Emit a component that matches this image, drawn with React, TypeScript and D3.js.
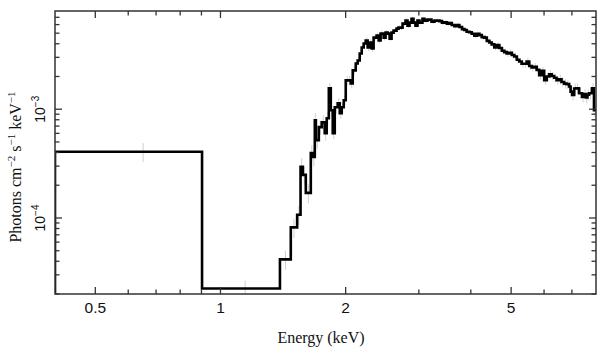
import React from "react";
import * as d3 from "d3";

// Bin edges (keV) and photon flux (photons cm^-2 s^-1 keV^-1)
const binEdges: number[] = [
  0.4, 0.903, 1.39, 1.476, 1.529,
  1.558, 1.578, 1.604,
  1.649, 1.668, 1.686, 1.696, 1.724, 1.752, 1.781, 1.801, 1.822, 1.842,
  1.862, 1.883, 1.914, 1.936, 1.957, 1.979, 2.001, 2.034, 2.057, 2.080,
  2.115, 2.138, 2.162, 2.186, 2.210, 2.235, 2.259, 2.285, 2.310, 2.335,
  2.374, 2.401, 2.427, 2.468, 2.495, 2.523, 2.551, 2.579, 2.608, 2.651,
  2.681, 2.711, 2.741, 2.786, 2.817, 2.848, 2.880, 2.912, 2.944, 2.977,
  3.010, 3.060, 3.095, 3.146, 3.217, 3.271,
  3.363, 3.41, 3.457, 3.505, 3.553, 3.60, 3.652, 3.70, 3.754, 3.81,
  3.860, 3.91, 3.968, 4.02, 4.079, 4.135, 4.194, 4.25, 4.311, 4.37,
  4.432, 4.49, 4.556, 4.62, 4.684, 4.75, 4.815, 4.88, 4.950, 5.02,
  5.088, 5.16, 5.231, 5.30, 5.377, 5.45, 5.527, 5.60, 5.682, 5.76,
  5.841, 5.92, 6.004, 6.09, 6.172, 6.26, 6.345, 6.43, 6.523, 6.61,
  6.705, 6.80, 6.893, 6.95, 7.008, 7.09, 7.165, 7.285, 7.406, 7.49,
  7.568, 7.63, 7.695, 7.824, 7.911, 8.0,
];

const fluxValues: number[] = [
  4.07e-4, 2.25e-5, 4.16e-5, 8.2e-5, 1.07e-4,
  2.96e-4, 2.49e-4, 1.70e-4,
  3.96e-4, 3.64e-4, 7.93e-4, 5.20e-4, 6.84e-4, 7.60e-4, 6.03e-4, 8.27e-4, 1.556e-3, 9.79e-4,
  6.03e-4, 1.043e-3, 1.135e-3, 9.19e-4, 1.043e-3, 1.209e-3, 1.842e-3, 1.842e-3, 1.729e-3, 2.275e-3,
  2.636e-3, 2.808e-3, 3.253e-3, 3.692e-3, 4.017e-3, 4.278e-3, 3.692e-3, 4.10e-3, 3.614e-3, 4.557e-3,
  4.753e-3, 4.278e-3, 4.958e-3, 4.557e-3, 5.064e-3, 4.958e-3, 4.462e-3, 5.064e-3, 5.283e-3, 5.510e-3,
  5.627e-3, 5.627e-3, 6.121e-3, 6.520e-3, 5.869e-3, 6.252e-3, 6.80e-3, 6.252e-3, 5.869e-3, 6.520e-3,
  6.252e-3, 6.80e-3, 6.52e-3, 6.66e-3, 6.385e-3, 6.52e-3,
  6.45e-3, 6.25e-3, 6.30e-3, 6.10e-3, 6.20e-3, 5.95e-3, 5.80e-3, 5.95e-3, 5.70e-3, 5.45e-3,
  5.35e-3, 5.15e-3, 5.10e-3, 4.95e-3, 4.75e-3, 4.95e-3, 4.80e-3, 4.60e-3, 4.55e-3, 4.25e-3,
  4.10e-3, 3.95e-3, 3.70e-3, 3.90e-3, 3.65e-3, 3.45e-3, 3.35e-3, 3.25e-3, 3.30e-3, 3.15e-3,
  3.05e-3, 2.85e-3, 2.75e-3, 2.62e-3, 2.62e-3, 2.75e-3, 2.50e-3, 2.42e-3, 2.45e-3, 2.30e-3,
  2.05e-3, 2.25e-3, 1.85e-3, 2.00e-3, 2.10e-3, 2.02e-3, 1.95e-3, 1.85e-3, 1.88e-3, 1.78e-3,
  1.72e-3, 1.70e-3, 1.62e-3, 1.45e-3, 1.35e-3, 1.55e-3, 1.556e-3, 1.401e-3, 1.30e-3, 1.38e-3,
  1.28e-3, 1.36e-3, 1.401e-3, 1.556e-3, 9.79e-4,
];

// relative 1-sigma errors per bin (gray error bars)
const relErrors: number[] = [
  0.2, 0.18, 0.2, 0.2, 0.2,
  0.2, 0.2, 0.2,
  0.18, 0.18, 0.16, 0.16, 0.15, 0.15, 0.15, 0.14, 0.12, 0.12,
  0.12, 0.12, 0.11, 0.11, 0.11, 0.1, 0.1, 0.1, 0.1, 0.09,
  0.09, 0.08, 0.08, 0.08, 0.07, 0.07, 0.07, 0.07, 0.07, 0.06,
  0.06, 0.06, 0.06, 0.06, 0.05, 0.05, 0.05, 0.05, 0.05, 0.05,
  0.05, 0.05, 0.05, 0.05, 0.05, 0.05, 0.04, 0.04, 0.04, 0.04,
  0.04, 0.04, 0.04, 0.04, 0.04, 0.04,
  0.05, 0.05, 0.05, 0.05, 0.05, 0.05, 0.05, 0.05, 0.05, 0.05,
  0.05, 0.05, 0.05, 0.05, 0.05, 0.05, 0.06, 0.06, 0.06, 0.06,
  0.06, 0.06, 0.06, 0.06, 0.07, 0.07, 0.07, 0.07, 0.07, 0.07,
  0.07, 0.07, 0.08, 0.08, 0.08, 0.08, 0.08, 0.08, 0.08, 0.08,
  0.09, 0.09, 0.09, 0.09, 0.09, 0.09, 0.09, 0.09, 0.1, 0.1,
  0.1, 0.1, 0.1, 0.1, 0.11, 0.11, 0.11, 0.11, 0.11, 0.11,
  0.12, 0.12, 0.12, 0.12, 0.14,
];

const xMajorTicks: number[] = [0.5, 1, 2, 5];
const xMajorLabels: string[] = ["0.5", "1", "2", "5"];
const xMinorTicks: number[] = [0.6, 0.7, 0.8, 0.9, 3, 4, 6, 7];
const yMajorTicks: number[] = [1e-4, 1e-3];
const yMajorExponents: string[] = ["−4", "−3"];
const yMinorTicks: number[] = [
  2e-5, 3e-5, 4e-5, 5e-5, 6e-5, 7e-5, 8e-5, 9e-5,
  2e-4, 3e-4, 4e-4, 5e-4, 6e-4, 7e-4, 8e-4, 9e-4,
  2e-3, 3e-3, 4e-3, 5e-3, 6e-3, 7e-3,
];

const W = 609;
const H = 357;
const L = 55, R = 596, T = 11, B = 294;

export default function App() {
  const x = d3.scaleLog().domain([0.4, 8]).range([L, R]);
  const y = d3.scaleLog().domain([2e-5, 8e-3]).range([B, T]);

  const n = Math.min(fluxValues.length, binEdges.length - 1);
  const pts: [number, number][] = [[x(binEdges[0]), B]];
  for (let i = 0; i < n; i++) {
    pts.push([x(binEdges[i]), y(fluxValues[i])]);
    pts.push([x(binEdges[i + 1]), y(fluxValues[i])]);
  }
  const line = d3.line<[number, number]>().x((d) => d[0]).y((d) => d[1]);

  const errBars = d3.range(n).map((i) => {
    const c = (binEdges[i] + binEdges[i + 1]) / 2;
    const f = fluxValues[i];
    const e = relErrors[i] ?? 0.05;
    return { x: x(c), y1: y(f * (1 + e)), y2: y(f * (1 - e)) };
  });

  const axisColor = "#333";
  const sans = "'Liberation Sans', Arial, Helvetica, sans-serif";
  const serif = "'Liberation Serif', 'Times New Roman', Times, serif";
  const majorLen = 7, minorLen = 4.5;

  return (
    <svg width={W} height={H} style={{ position: "fixed", left: 0, top: 0, background: "#fff" }}>
      <defs>
        <clipPath id="plotclip">
          <rect x={L} y={T} width={R - L} height={B - T} />
        </clipPath>
      </defs>
      <rect x={0} y={0} width={W} height={H} fill="#fff" />
      <g clipPath="url(#plotclip)">
        {errBars.map((e, i) => (
          <line key={i} x1={e.x} x2={e.x} y1={e.y1} y2={e.y2} stroke="#d0d0d0" strokeWidth={1} />
        ))}
        <path d={line(pts) ?? ""} fill="none" stroke="#000" strokeWidth={2.6} strokeLinejoin="miter" />
      </g>
      {/* frame */}
      <rect x={L} y={T} width={R - L} height={B - T} fill="none" stroke={axisColor} strokeWidth={1.5} />
      {/* x ticks */}
      {xMajorTicks.map((t) => (
        <g key={"xm" + t}>
          <line x1={x(t)} x2={x(t)} y1={B} y2={B - majorLen} stroke={axisColor} strokeWidth={1.3} />
          <line x1={x(t)} x2={x(t)} y1={T} y2={T + majorLen} stroke={axisColor} strokeWidth={1.3} />
        </g>
      ))}
      {xMinorTicks.map((t) => (
        <g key={"xn" + t}>
          <line x1={x(t)} x2={x(t)} y1={B} y2={B - minorLen} stroke={axisColor} strokeWidth={1.3} />
          <line x1={x(t)} x2={x(t)} y1={T} y2={T + minorLen} stroke={axisColor} strokeWidth={1.3} />
        </g>
      ))}
      {xMajorTicks.map((t, i) => (
        <text key={"xl" + t} x={x(t)} y={313} textAnchor="middle" fontFamily={sans} fontSize={15.5} fill="#111">
          {xMajorLabels[i]}
        </text>
      ))}
      {/* y ticks */}
      {yMajorTicks.map((t) => (
        <g key={"ym" + t}>
          <line x1={L} x2={L + majorLen} y1={y(t)} y2={y(t)} stroke={axisColor} strokeWidth={1.3} />
          <line x1={R} x2={R - majorLen} y1={y(t)} y2={y(t)} stroke={axisColor} strokeWidth={1.3} />
        </g>
      ))}
      {yMinorTicks.map((t) => (
        <g key={"yn" + t}>
          <line x1={L} x2={L + minorLen} y1={y(t)} y2={y(t)} stroke={axisColor} strokeWidth={1.3} />
          <line x1={R} x2={R - minorLen} y1={y(t)} y2={y(t)} stroke={axisColor} strokeWidth={1.3} />
        </g>
      ))}
      {yMajorTicks.map((t, i) => (
        <text
          key={"yl" + t}
          transform={`translate(45,${y(t)}) rotate(-90)`}
          textAnchor="middle"
          fontFamily={sans}
          fontSize={14}
          fill="#111"
        >
          10<tspan fontSize={10} dy={-6}>{yMajorExponents[i]}</tspan>
        </text>
      ))}
      {/* axis titles */}
      <text x={321} y={343} textAnchor="middle" fontFamily={serif} fontSize={16} fill="#111">
        Energy (keV)
      </text>
      <text
        transform={`translate(21,167) rotate(-90)`}
        textAnchor="middle"
        fontFamily={serif}
        fontSize={16}
        fill="#111"
      >
        Photons cm<tspan fontSize={11} dy={-6}>−2</tspan>
        <tspan dy={6}> s</tspan>
        <tspan fontSize={11} dy={-6}>−1</tspan>
        <tspan dy={6}> keV</tspan>
        <tspan fontSize={11} dy={-6}>−1</tspan>
      </text>
    </svg>
  );
}
